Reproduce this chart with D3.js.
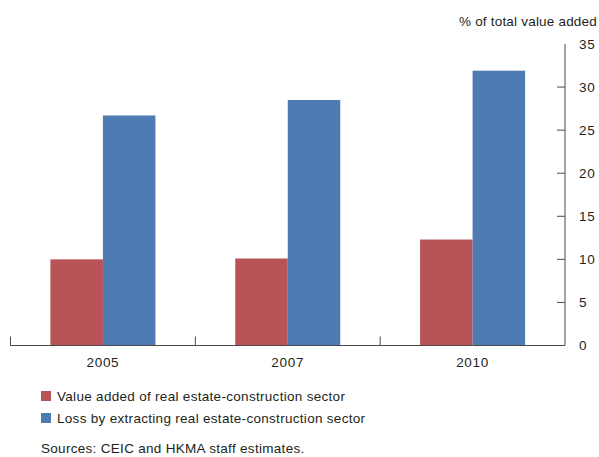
<!DOCTYPE html>
<html>
<head>
<meta charset="utf-8">
<script src="https://cdn.jsdelivr.net/npm/d3@7/dist/d3.min.js"></script>
<style>
  html, body { margin: 0; padding: 0; background: #fff; }
  svg { display: block; font-family: "Liberation Sans", Arial, Helvetica, sans-serif; }
</style>
</head>
<body>
<svg id="chart" width="599" height="457"></svg>
<script>
// Share of total value added, by year
const years = ["2005", "2007", "2010"];
const valueAdded = [10.0, 10.1, 12.3];
const lossByExtracting = [26.7, 28.5, 31.9];
const seriesNames = [
  "Value added of real estate-construction sector",
  "Loss by extracting real estate-construction sector"
];
const seriesColors = ["#B85457", "#4E7CB2"];
const yTicks = [0, 5, 10, 15, 20, 25, 30, 35];
const yTitle = "% of total value added";
const sourceNote = "Sources: CEIC and HKMA staff estimates.";

const svg = d3.select("#chart");
const plotLeft = 10.5, plotRight = 565, plotTop = 44, plotBottom = 345.5;
const textColor = "#231f20";
const axisColor = "#4a4a4a";
const fontSize = 13.5;

const x = d3.scaleBand().domain(years).range([plotLeft, plotRight]).padding(0);
const y = d3.scaleLinear().domain([0, 35]).range([plotBottom, plotTop]);

const series = [valueAdded, lossByExtracting];
const barW = 52.5;
const groupOffset = (x.bandwidth() - 2 * barW) / 2;

// bars
series.forEach((vals, si) => {
  svg.append("g").selectAll("rect")
    .data(years.map((yr, i) => ({ yr, v: vals[i] })))
    .join("rect")
    .attr("x", d => x(d.yr) + groupOffset + si * barW)
    .attr("y", d => y(d.v))
    .attr("width", barW)
    .attr("height", d => y(0) - y(d.v))
    .attr("fill", seriesColors[si]);
});

// right value axis
const yAxis = svg.append("g").attr("transform", `translate(${plotRight},0)`);
yAxis.append("line")
  .attr("x1", 0).attr("x2", 0).attr("y1", y(35)).attr("y2", y(0))
  .attr("stroke", axisColor).attr("stroke-width", 1);
yAxis.selectAll("line.tick")
  .data(yTicks.filter(t => t > 0 && t < 35))
  .join("line").attr("class", "tick")
  .attr("x1", -8).attr("x2", 0)
  .attr("y1", d => y(d)).attr("y2", d => y(d))
  .attr("stroke", axisColor).attr("stroke-width", 1);
yAxis.selectAll("text")
  .data(yTicks)
  .join("text")
  .attr("x", 14).attr("y", d => y(d)).attr("dy", "0.36em")
  .attr("font-size", fontSize).attr("letter-spacing", 0.8).attr("fill", textColor)
  .text(d => d);

svg.append("text")
  .attr("x", 597).attr("y", 26)
  .attr("text-anchor", "end").attr("font-size", fontSize).attr("letter-spacing", 0.2)
  .attr("fill", textColor)
  .text(yTitle);

// category baseline with separators
const xAxis = svg.append("g");
xAxis.append("line")
  .attr("x1", plotLeft).attr("x2", plotRight).attr("y1", plotBottom).attr("y2", plotBottom)
  .attr("stroke", axisColor).attr("stroke-width", 1.2);
xAxis.selectAll("line.sep")
  .data(years)
  .join("line").attr("class", "sep")
  .attr("x1", d => x(d)).attr("x2", d => x(d))
  .attr("y1", plotBottom - 9).attr("y2", plotBottom)
  .attr("stroke", axisColor).attr("stroke-width", 1);
xAxis.selectAll("text")
  .data(years)
  .join("text")
  .attr("x", d => x(d) + x.bandwidth() / 2).attr("y", 367)
  .attr("text-anchor", "middle").attr("font-size", fontSize).attr("letter-spacing", 0.7)
  .attr("fill", textColor)
  .text(d => d);

// legend
const legend = svg.append("g");
seriesNames.forEach((name, i) => {
  const ly = 391 + i * 22;
  legend.append("rect")
    .attr("x", 41).attr("y", ly).attr("width", 10).attr("height", 10)
    .attr("fill", seriesColors[i]);
  legend.append("text")
    .attr("x", 57).attr("y", ly + 10).attr("font-size", fontSize).attr("letter-spacing", 0.3)
    .attr("fill", textColor)
    .text(name);
});

svg.append("text")
  .attr("x", 41).attr("y", 453).attr("font-size", fontSize).attr("letter-spacing", 0.3)
  .attr("fill", textColor)
  .text(sourceNote);
</script>
</body>
</html>
